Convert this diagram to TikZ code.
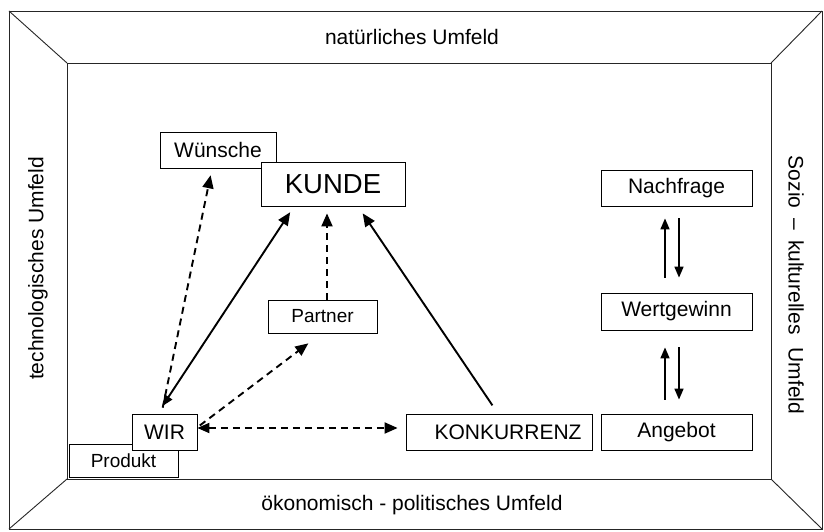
\documentclass[tikz,border=0pt]{standalone}
\usepackage{fontspec}
\setmainfont{Liberation Sans}
\usetikzlibrary{arrows.meta,calc}
\begin{document}
\begin{tikzpicture}[x=1pt,y=1pt,
  box/.style={draw=black,line width=0.8pt,fill=white,inner sep=0pt,rectangle,font=\fontsize{21}{25}\selectfont},
  smallbox/.style={box,font=\fontsize{19}{23}\selectfont},
  frameline/.style={draw=black!85,line width=0.9pt},
  lbl/.style={font=\fontsize{21}{25}\selectfont,inner sep=0pt},
  sarrow/.style={line width=1.9pt,-{Triangle[length=13pt,width=11pt]}},
  sdarrow/.style={line width=1.9pt,{Triangle[length=11pt,width=9pt]}-{Triangle[length=13pt,width=11pt]}},
  darrow/.style={line width=1.9pt,dash pattern=on 7pt off 5pt,-{Triangle[length=13pt,width=11pt]}},
  ddarrow/.style={line width=1.9pt,dash pattern=on 7pt off 5pt,{Triangle[length=12pt,width=10pt]}-{Triangle[length=13pt,width=11pt]}},
  varrow/.style={line width=1.6pt,-{Triangle[length=11pt,width=9pt]}}]
\useasboundingbox (0,0) rectangle (824,531);
\fill[white] (0,0) rectangle (824,531);
% frame
\draw[frameline] (9,2) rectangle (822,520);
\draw[frameline] (67,52) rectangle (771,468);
\draw[frameline] (9,520) -- (67,468);
\draw[frameline] (822,520) -- (771,468);
\draw[frameline] (9,2) -- (67,52);
\draw[frameline] (822,2) -- (771,52);
% frame labels
\node[lbl] (ltop) at (412,494) {natürliches Umfeld};
\node[lbl] (lbottom) at (412,26) {ökonomisch - politisches Umfeld};
\node[lbl,rotate=90] (lleft) at (38,262.5) {technologisches Umfeld};
\node[lbl,rotate=-90] (lright) at (796,246) {Sozio\hspace{10pt}–\hspace{10pt}kulturelles\hspace{13pt}Umfeld};
% boxes
\node[box,minimum width=116pt,minimum height=36pt] (wuensche) at (218,381) {Wünsche};
\node[box,minimum width=144pt,minimum height=44pt,font=\fontsize{27.5}{32}\selectfont] (kunde) at (333,347) {KUNDE};
\node[smallbox,minimum width=109pt,minimum height=33pt] (partner) at (322.5,214.5) {Partner};
\node[smallbox,minimum width=109pt,minimum height=33pt] (produkt) at (123.5,70.5) {Produkt};
\node[box,minimum width=65pt,minimum height=36pt] (wir) at (164.5,99) {WIR};
\node[box,minimum width=186pt,minimum height=36pt] (konk) at (499,99) {\hspace*{18pt}KONKURRENZ};
\node[box,minimum width=151pt,minimum height=36pt] (angebot) at (676.5,99) {Angebot};
\node[box,minimum width=151pt,minimum height=37pt] (wert) at (676.5,219.5) {Wertgewinn};
\node[box,minimum width=151pt,minimum height=36pt] (nachfrage) at (676.5,343) {Nachfrage};
% connectors
\draw[darrow,shorten <=6pt,shorten >=7pt] ($(wir.north)+(-3,0)$) -- ($(wuensche.south)+(-6,0)$);
\draw[sdarrow,shorten <=9pt,shorten >=7pt] ($(wir.north)+(-7,0)$) -- ($(kunde.south)+(-39,0)$);
\draw[darrow,shorten >=7pt] ($(partner.north)+(4.5,0)$) -- ($(kunde.south)+(-6,0)$);
\draw[darrow,shorten <=3pt,shorten >=16.5pt] ($(wir.east)+(0,4.7)$) -- ($(partner.south)+(-1,0)$);
\draw[ddarrow,shorten >=8pt] ($(wir.east)+(0,4)$) -- ($(konk.west)+(0,4)$);
\draw[sarrow,shorten <=10pt,shorten >=8.4pt] ($(konk.north)+(-1,0)$) -- ($(kunde.south)+(25,0)$);
\draw[varrow,shorten <=15pt,shorten >=12pt] ($(wert.north)+(-11.5,0)$) -- ($(nachfrage.south)+(-11.5,0)$);
\draw[varrow,shorten <=12pt,shorten >=15pt] ($(nachfrage.south)+(2.5,0)$) -- ($(wert.north)+(2.5,0)$);
\draw[varrow,shorten <=14pt,shorten >=17pt] ($(angebot.north)+(-11.5,0)$) -- ($(wert.south)+(-11.5,0)$);
\draw[varrow,shorten <=17pt,shorten >=14pt] ($(wert.south)+(2.5,0)$) -- ($(angebot.north)+(2.5,0)$);
\end{tikzpicture}
\end{document}
